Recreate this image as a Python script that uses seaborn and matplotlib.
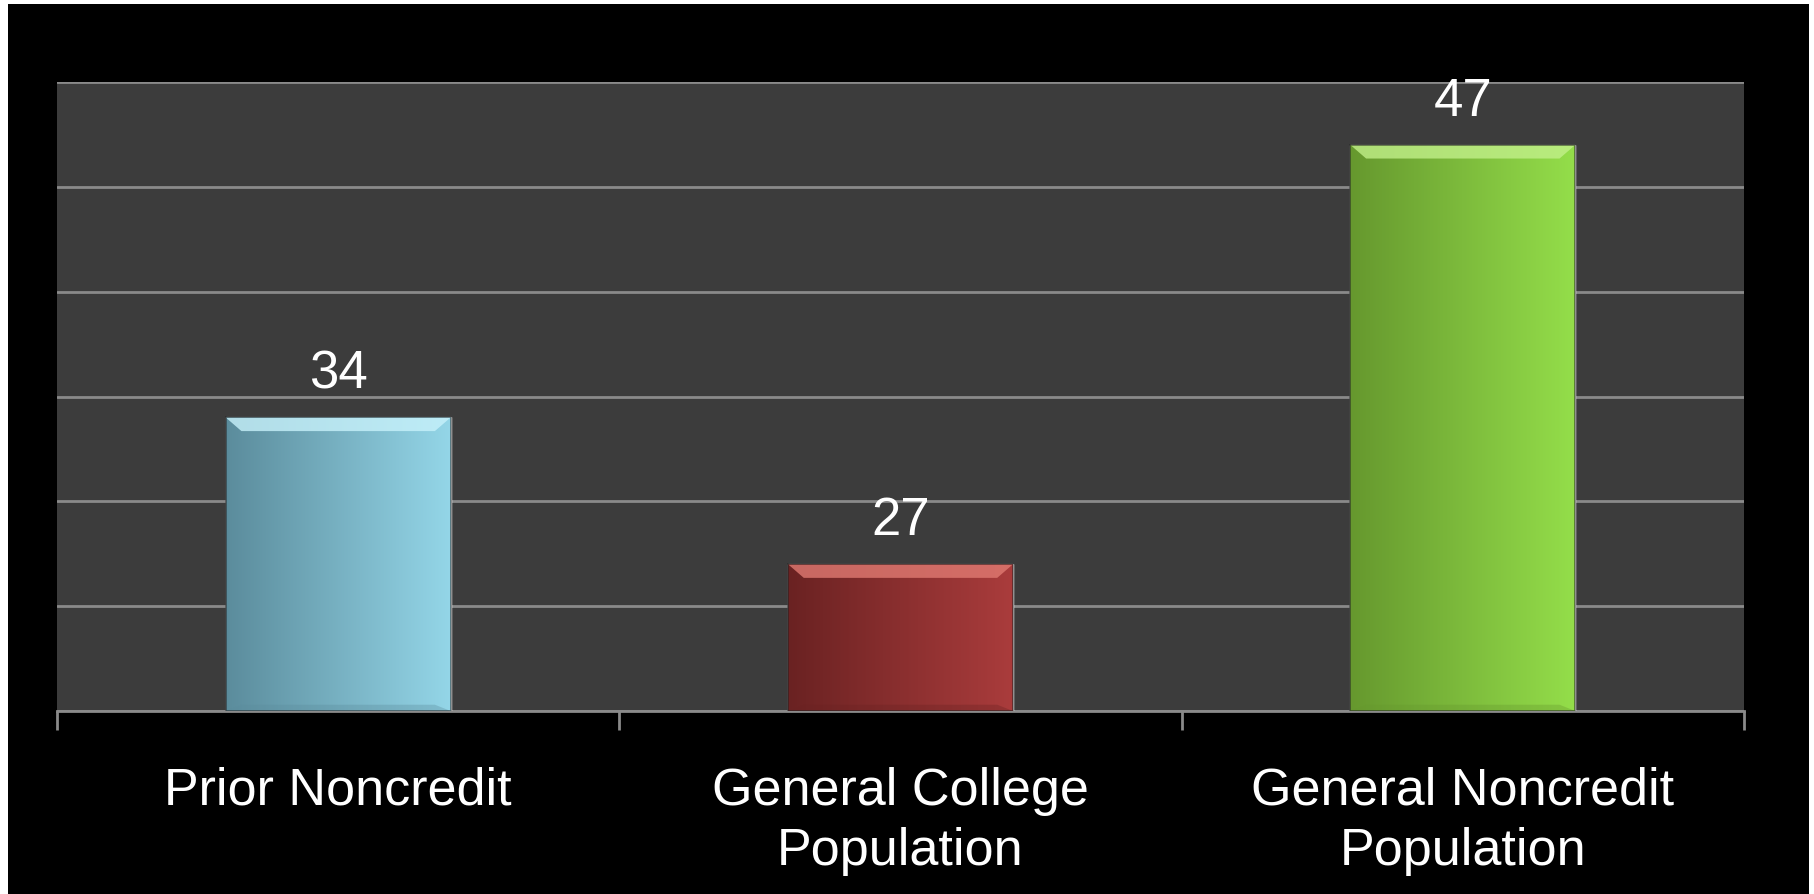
import numpy as np
import matplotlib
matplotlib.use("Agg")
import matplotlib.pyplot as plt
from matplotlib.colors import LinearSegmentedColormap
from matplotlib.patches import Rectangle, Polygon
import seaborn as sns

categories = ["Prior Noncredit", "General College\nPopulation", "General Noncredit\nPopulation"]
values = [34, 27, 47]
bar_dark = ["#5b8c9c", "#6a2222", "#66982e"]
bar_light = ["#94d6e8", "#aa3c3c", "#94de4a"]
bar_top = ["#c8f2fb", "#e07a72", "#c2f08a"]
y_min, y_max, y_step = 20, 50, 5

sns.set_theme(style="dark")
plt.rcParams["font.family"] = ["Liberation Sans", "DejaVu Sans"]

W, H = 1814, 894
fig = plt.figure(figsize=(W / 100, H / 100), dpi=100, facecolor="white")
fig.patches.append(Rectangle((8 / W, 0), (1809 - 8) / W, (H - 4) / H,
                             transform=fig.transFigure, facecolor="black",
                             edgecolor="none", zorder=-10))
ax = fig.add_axes([57 / W, 1 - 711 / H, (1744 - 57) / W, (711 - 82) / H])
ax.set_facecolor("#3c3c3c")

sns.barplot(x=categories, y=values, hue=categories, palette=bar_light,
            width=0.4, legend=False, ax=ax, zorder=3)

ax.set_ylim(y_min, y_max)
ax.set_xlim(-0.5, len(categories) - 0.5)
ax.set_yticks(np.arange(y_min, y_max + 1, y_step))
ax.set_yticklabels([])
ax.tick_params(axis="y", length=0)
ax.yaxis.grid(True, color="#8a8a8a", linewidth=2, zorder=1)
ax.xaxis.grid(False)
for s in ["left", "right", "top"]:
    ax.spines[s].set_visible(False)
ax.spines["bottom"].set_color("#8a8a8a")
ax.spines["bottom"].set_linewidth(2)

# category boundary ticks
ax.set_xticks(np.arange(-0.5, len(categories), 1.0), minor=True)
ax.tick_params(axis="x", which="minor", length=14, width=2, color="#8a8a8a",
               direction="out", bottom=True)
ax.set_xticks(range(len(categories)))
ax.set_xticklabels(categories, color="white", fontsize=37.5, linespacing=1.3)
ax.tick_params(axis="x", which="major", length=0, pad=40)
ax.set_xlabel("")
ax.set_ylabel("")

# gradient fills and bevels
bev_y = 0.65
bev_x = 0.028
for i, p in enumerate(ax.patches[:len(values)]):
    x0, y0 = p.get_x(), p.get_y()
    w, h = p.get_width(), p.get_height()
    if y0 < y_min:
        h = h - (y_min - y0)
        y0 = y_min
    cmap = LinearSegmentedColormap.from_list("g", [bar_dark[i], bar_light[i]])
    grad = np.linspace(0, 1, 256).reshape(1, -1)
    im = ax.imshow(grad, extent=[x0, x0 + w, y0, y0 + h], aspect="auto",
                   cmap=cmap, zorder=4)
    im.set_clip_path(p)
    top = y0 + h
    ax.add_patch(Polygon([(x0, top), (x0 + w, top), (x0 + w - bev_x, top - bev_y),
                          (x0 + bev_x, top - bev_y)], closed=True,
                         facecolor=bar_top[i], edgecolor="none", alpha=0.8, zorder=5))
    ax.add_patch(Polygon([(x0, y0), (x0 + bev_x, y0 + 0.3), (x0 + w - bev_x, y0 + 0.3),
                          (x0 + w, y0)], closed=True,
                         facecolor=bar_dark[i], edgecolor="none", alpha=0.35, zorder=5))
    ax.add_patch(Rectangle((x0, y0), w, h, facecolor="none",
                           edgecolor="#222222", linewidth=1.2, alpha=0.6, zorder=6))
    ax.text(x0 + w / 2, top + 0.85, f"{values[i]}", ha="center", va="bottom",
            color="white", fontsize=38, zorder=7)

fig.savefig("out.png", dpi=100, facecolor=fig.get_facecolor())
